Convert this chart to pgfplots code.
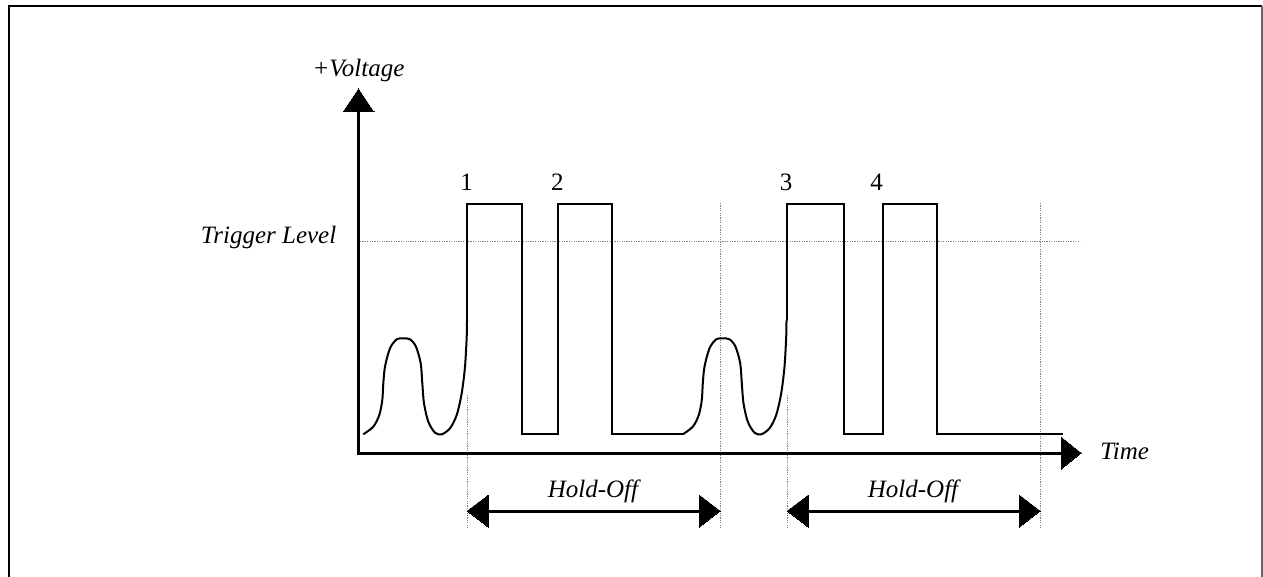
\documentclass[border=0pt]{standalone}
\usepackage{pgfplots}
\pgfplotsset{compat=1.18}
\usepackage{fontspec}
\setmainfont{Liberation Serif}
\begin{document}
\begin{tikzpicture}
\begin{axis}[
  scale only axis, width=631.5pt, height=288.5pt,
  xmin=0, xmax=1263, ymin=0, ymax=577, y dir=reverse,
  hide axis, clip=true,
  every axis plot/.append style={no markers},
]
\coordinate (SW) at (rel axis cs:0,0);
\coordinate (NE) at (rel axis cs:1,1);
% frame
\addplot[black, line width=1pt] coordinates {(8.5,600) (8.5,6.5) (1262,6.5)};
\addplot[black!60, line width=0.7pt] coordinates {(1262,6.5) (1262,600)};
% dotted guides
\addplot[gray, line width=0.5pt, dash pattern=on 0.6pt off 0.6pt] coordinates {(360,241.7) (1080,241.7)};
\addplot[gray, line width=0.5pt, dash pattern=on 0.6pt off 0.6pt] coordinates {(467,395) (467,529)};
\addplot[gray, line width=0.5pt, dash pattern=on 0.6pt off 0.6pt] coordinates {(720,203) (720,529)};
\addplot[gray, line width=0.5pt, dash pattern=on 0.6pt off 0.6pt] coordinates {(787,395) (787,529)};
\addplot[gray, line width=0.5pt, dash pattern=on 0.6pt off 0.6pt] coordinates {(1040,203) (1040,529)};
% axes
\addplot[black, line width=1.5pt] coordinates {(358.5,112) (358.5,453) (1062,453)};
\addplot[black, fill=black, line width=0pt] coordinates {(343,112) (374,112) (358.5,89) (343,112)};
\addplot[black, fill=black, line width=0pt] coordinates {(1061,437) (1061,469) (1081,453) (1061,437)};
% hold-off arrows
\addplot[black, line width=1.5pt] coordinates {(488,511) (700,511)};
\addplot[black, fill=black, line width=0pt] coordinates {(488.3,495) (488.3,527) (467.3,511) (488.3,495)};
\addplot[black, fill=black, line width=0pt] coordinates {(699.3,495) (699.3,527) (720,511) (699.3,495)};
\addplot[black, line width=1.5pt] coordinates {(808,511) (1020,511)};
\addplot[black, fill=black, line width=0pt] coordinates {(808.3,495) (808.3,527) (787.3,511) (808.3,495)};
\addplot[black, fill=black, line width=0pt] coordinates {(1019.3,495) (1019.3,527) (1040,511) (1019.3,495)};
% signal: bump 1
\addplot[black, line width=1pt, smooth] coordinates {
(363.3,434.3) (373.3,426.7) (379.3,415) (382.3,400) (383.3,383.3) (385,366.7)
(390,348.3) (396.7,339.3) (403.3,338.3) (410,339.3) (416,346.7) (420.7,363.3)
(422.3,383.3) (424,403.3) (428.3,421.7) (435,432.7) (441.7,434.3) (450,428.3)
(456.7,415) (461.7,393.3) (465,366.7) (466.7,336.7) (467,320)};
% pulses 1 and 2
\addplot[black, line width=1pt] coordinates {
(467,320) (467,204) (521.7,204) (521.7,434.3) (557.7,434.3) (557.7,204)
(611.7,204) (611.7,434.3) (682.8,434.3)};
% bump 2
\addplot[black, line width=1pt, smooth] coordinates {
(682.8,434.3) (692.8,426.7) (698.8,415) (701.8,400) (702.8,383.3) (704.5,366.7)
(709.5,348.3) (716.2,339.3) (722.8,338.3) (729.5,339.3) (735.5,346.7) (740.2,363.3)
(741.8,383.3) (743.5,403.3) (747.8,421.7) (754.5,432.7) (761.2,434.3) (769.5,428.3)
(776.2,415) (781.2,393.3) (784.5,366.7) (786.2,336.7) (786.5,320)};
% pulses 3 and 4
\addplot[black, line width=1pt] coordinates {
(786.5,320) (786.5,204) (844.3,204) (844.3,434.3) (882.7,434.3) (882.7,204)
(936.7,204) (936.7,434.3) (1063.3,434.3)};
% labels
\node[anchor=base, font=\fontsize{12.5pt}{14pt}\selectfont\itshape, inner sep=0pt] at (axis cs:358.5,77) {+Voltage};
\node[anchor=base east, font=\fontsize{12.5pt}{14pt}\selectfont\itshape, inner sep=0pt] at (axis cs:336.7,243) {Trigger Level};
\node[anchor=base west, font=\fontsize{12.5pt}{14pt}\selectfont\itshape, inner sep=0pt] at (axis cs:1100,459.3) {Time};
\node[anchor=base, font=\fontsize{12.5pt}{14pt}\selectfont\itshape, inner sep=0pt] at (axis cs:593,497) {Hold-Off};
\node[anchor=base, font=\fontsize{12.5pt}{14pt}\selectfont\itshape, inner sep=0pt] at (axis cs:913,497) {Hold-Off};
\node[anchor=base, font=\fontsize{12.5pt}{14pt}\selectfont, inner sep=0pt] at (axis cs:466.7,190.7) {1};
\node[anchor=base, font=\fontsize{12.5pt}{14pt}\selectfont, inner sep=0pt] at (axis cs:557.3,190.7) {2};
\node[anchor=base, font=\fontsize{12.5pt}{14pt}\selectfont, inner sep=0pt] at (axis cs:786,190.7) {3};
\node[anchor=base, font=\fontsize{12.5pt}{14pt}\selectfont, inner sep=0pt] at (axis cs:876.7,190.7) {4};
\end{axis}
\pgfresetboundingbox
\path[use as bounding box] (SW) rectangle (NE);
\end{tikzpicture}
\end{document}
